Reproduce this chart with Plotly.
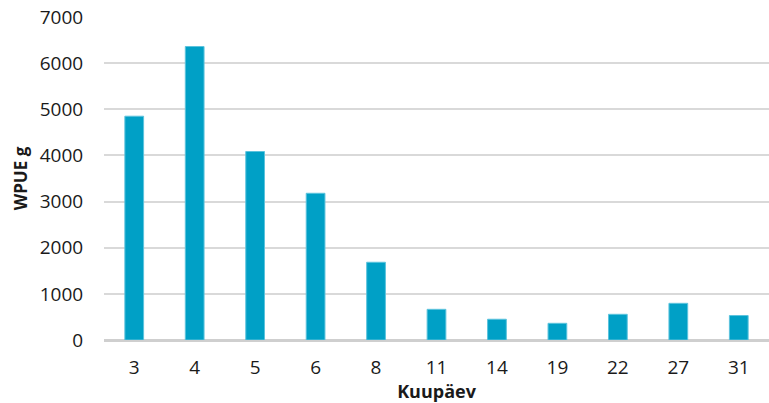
import plotly.graph_objects as go

categories = ["3", "4", "5", "6", "8", "11", "14", "19", "22", "27", "31"]
wpue = [4850, 6360, 4085, 3180, 1685, 665, 450, 362, 557, 795, 530]
y_ticks = [0, 1000, 2000, 3000, 4000, 5000, 6000, 7000]

fig = go.Figure(go.Bar(
    x=categories, y=wpue,
    marker=dict(color="#00A0C6", line=dict(color="#5CC3DD", width=1)),
    width=0.31,
))

font_family = "Open Sans, Noto Sans, sans-serif"
fig.update_layout(
    width=769, height=403,
    margin=dict(l=104, r=0, t=17, b=63),
    plot_bgcolor="white", paper_bgcolor="white",
    showlegend=False,
    font=dict(family=font_family, size=19, color="#1a1a1a"),
    xaxis=dict(
        type="category", automargin=False,
        title=dict(text="<b>Kuupäev</b>", font=dict(size=18, color="#1a1a1a"), standoff=2),
        showgrid=False, ticks="outside", ticklen=10, tickcolor="rgba(255,255,255,0)",
        tickfont=dict(size=19), showline=False,
    ),
    yaxis=dict(
        range=[0, 7000], tickvals=y_ticks, automargin=False,
        title=dict(text="<b>WPUE g</b>", font=dict(size=17, color="#1a1a1a"), standoff=7),
        showgrid=True, gridcolor="#d9d9d9", gridwidth=2,
        zeroline=True, zerolinecolor="#cfcfcf", zerolinewidth=3,
        ticks="outside", ticklen=16, tickcolor="rgba(255,255,255,0)",
        tickfont=dict(size=19),
    ),
)

fig.write_html(
    "out.html",
    config={"displayModeBar": False},
    post_script="document.body.style.margin='0';document.body.style.overflow='hidden';",
)
